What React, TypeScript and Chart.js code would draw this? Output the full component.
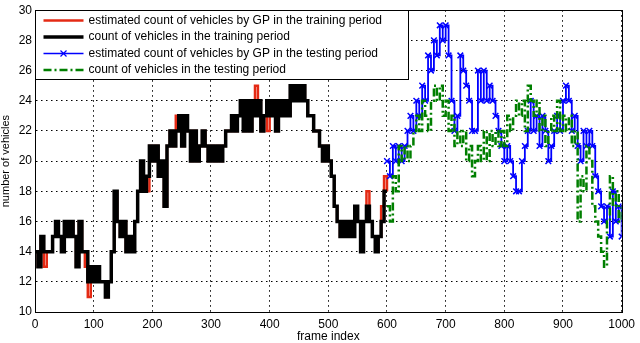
import React, { useEffect, useRef } from "react";
import { Chart, registerables } from "chart.js";

Chart.register(...registerables);

const FRAME_STEP = 5;
const TRAIN_START = 0;
const TEST_START = 600;

const xTicks = [0, 100, 200, 300, 400, 500, 600, 700, 800, 900, 1000];
const yTicks = [10, 12, 14, 16, 18, 20, 22, 24, 26, 28, 30];

const legendLabels = [
  "estimated count of vehicles by GP in the training period",
  "count of vehicles in the training period",
  "estimated count of vehicles by GP in the testing period",
  "count of vehicles in the testing period",
];

// frames 0..600, every 5 frames
const trainEstimated = [
  14, 13, 15, 13, 14, 14, 15, 16, 15, 14, 16, 15, 16, 15, 13, 16, 14, 13, 11, 13,
  12, 13, 12, 12, 11, 12, 14, 18, 16, 15, 16, 14, 15, 14, 16, 18, 19, 18, 18, 21,
  20, 21, 19, 19, 17, 21, 22, 21, 23, 23, 21, 23, 22, 20, 22, 20, 21, 22, 21, 20,
  21, 20, 21, 20, 21, 22, 22, 23, 22, 23, 24, 22, 24, 22, 24, 25, 24, 22, 23, 22,
  23, 24, 22, 24, 23, 24, 23, 25, 24, 25, 24, 25, 24, 23, 23, 22, 22, 21, 20, 21,
  20, 19, 17, 16, 15, 16, 15, 16, 15, 17, 16, 14, 16, 18, 16, 15, 14, 15, 17, 19,
  18,
];
const trainActual = [
  14, 13, 15, 14, 14, 14, 15, 16, 15, 14, 16, 15, 16, 15, 13, 16, 14, 14, 12, 13,
  12, 13, 12, 12, 11, 12, 14, 18, 16, 15, 16, 14, 15, 14, 16, 18, 20, 18, 19, 21,
  20, 21, 19, 20, 17, 21, 22, 21, 22, 23, 21, 23, 22, 20, 22, 20, 21, 22, 21, 20,
  21, 20, 21, 20, 21, 22, 22, 23, 22, 23, 24, 22, 24, 22, 24, 23, 24, 22, 23, 24,
  23, 24, 22, 24, 23, 24, 23, 25, 24, 25, 24, 25, 24, 23, 23, 22, 22, 21, 20, 21,
  20, 19, 17, 16, 15, 16, 15, 16, 15, 17, 16, 14, 16, 17, 16, 15, 14, 15, 16, 18,
  18,
];
// frames 600..1000, every 5 frames
const testEstimated = [
  20, 19, 21, 20, 21, 20, 21, 22, 23, 22, 24, 23, 25, 24, 27, 26, 28, 27, 29, 28,
  29, 27, 24, 22, 23, 27, 26, 25, 24, 22, 22, 26, 24, 26, 24, 25, 24, 23, 22, 21,
  20, 21, 20, 19, 18, 18, 20, 21, 22, 24, 22, 23, 21, 23, 22, 20, 21, 22, 23, 22,
  24, 25, 24, 22, 23, 21, 20, 22, 21, 22, 21, 19, 18, 17, 16, 17, 15, 18, 16, 17,
  15,
];
const testActual = [
  17, 16, 19, 18, 21, 20, 21, 20, 21, 22, 23, 22, 24, 23, 22, 24, 25, 24, 25, 23,
  24, 22, 23, 21, 22, 21, 22, 20, 21, 19, 20, 21, 20, 22, 20, 22, 21, 22, 21, 22,
  21, 23, 22, 23, 24, 23, 24, 22, 25, 24, 23, 24, 22, 23, 21, 22, 23, 22, 24, 22,
  23, 22, 23, 21, 22, 16, 19, 18, 21, 20, 17, 16, 15, 14, 13, 16, 19, 17, 18, 16,
  17,
];

const RED = "rgb(228,42,20)";
const BLACK = "#000000";
const BLUE = "#0000ff";
const GREEN = "#007f00";
const FONT = "'Liberation Sans', Arial, Helvetica, sans-serif";

const toPoints = (vals: number[], start: number) =>
  vals.map((v, i) => ({ x: start + i * FRAME_STEP, y: v }));

const framePlugin = {
  id: "matlabFrame",
  afterDraw(chart: any) {
    const { ctx, chartArea: a } = chart;
    ctx.save();
    const L = Math.round(a.left) + 0.5;
    const T = Math.round(a.top) + 0.5;
    const R = Math.round(a.right) + 0.5;
    const B = Math.round(a.bottom) + 0.5;
    ctx.strokeStyle = "#000";
    ctx.lineWidth = 1;
    ctx.setLineDash([]);
    ctx.strokeRect(L, T, R - L, B - T);

    // legend box
    const lw = 373;
    const lh = 69;
    ctx.fillStyle = "#fff";
    ctx.fillRect(L, T, lw, lh);
    ctx.strokeRect(L, T, lw, lh);

    const rows = [T + 10, T + 26.5, T + 43, T + 59.5];
    const sx0 = L + 8;
    const sx1 = L + 48;
    const drawSample = (y: number, color: string, width: number, dash: number[]) => {
      ctx.beginPath();
      ctx.strokeStyle = color;
      ctx.lineWidth = width;
      ctx.setLineDash(dash);
      ctx.moveTo(sx0, y);
      ctx.lineTo(sx1, y);
      ctx.stroke();
      ctx.setLineDash([]);
    };
    drawSample(rows[0], RED, 2.5, []);
    drawSample(rows[1], BLACK, 3.5, []);
    drawSample(rows[2], BLUE, 1.5, []);
    // x marker
    const mx = (sx0 + sx1) / 2;
    ctx.beginPath();
    ctx.strokeStyle = BLUE;
    ctx.lineWidth = 1.2;
    ctx.moveTo(mx - 3, rows[2] - 3);
    ctx.lineTo(mx + 3, rows[2] + 3);
    ctx.moveTo(mx + 3, rows[2] - 3);
    ctx.lineTo(mx - 3, rows[2] + 3);
    ctx.stroke();
    drawSample(rows[3], GREEN, 2.5, [8, 3, 2, 3]);

    ctx.fillStyle = "#000";
    ctx.font = `12px ${FONT}`;
    ctx.textBaseline = "middle";
    ctx.textAlign = "left";
    legendLabels.forEach((t, i) => ctx.fillText(t, L + 53, rows[i]));
    ctx.restore();
  },
};

export default function App() {
  const ref = useRef<HTMLCanvasElement | null>(null);

  useEffect(() => {
    document.body.style.margin = "0";
    const canvas = ref.current;
    if (!canvas) return;
    const chart = new Chart(canvas, {
      type: "line",
      data: {
        datasets: [
          {
            label: legendLabels[3],
            data: toPoints(testActual, TEST_START),
            borderColor: GREEN,
            borderWidth: 2.5,
            borderDash: [8, 3, 2, 3],
            pointRadius: 0,
            stepped: true,
            order: 0,
          },
          {
            label: legendLabels[2],
            data: toPoints(testEstimated, TEST_START),
            borderColor: BLUE,
            borderWidth: 1.8,
            pointStyle: "crossRot",
            pointRadius: 4,
            pointBorderWidth: 1.5,
            pointBorderColor: BLUE,
            pointBackgroundColor: BLUE,
            stepped: true,
            order: 1,
          },
          {
            label: legendLabels[1],
            data: toPoints(trainActual, TRAIN_START),
            borderColor: BLACK,
            borderWidth: 3.5,
            pointRadius: 0,
            stepped: true,
            order: 2,
          },
          {
            label: legendLabels[0],
            data: toPoints(trainEstimated, TRAIN_START),
            borderColor: RED,
            borderWidth: 2.5,
            pointRadius: 0,
            stepped: true,
            order: 3,
          },
        ],
      },
      options: {
        animation: false,
        responsive: true,
        maintainAspectRatio: false,
        layout: { padding: { top: 4, right: 14, left: 0, bottom: 0 } },
        plugins: {
          legend: { display: false },
          tooltip: { enabled: false },
        },
        scales: {
          x: {
            type: "linear",
            min: xTicks[0],
            max: xTicks[xTicks.length - 1],
            afterBuildTicks: (s: any) => {
              s.ticks = xTicks.map((v) => ({ value: v }));
            },
            afterFit: (s: any) => {
              s.height = 31;
            },
            grid: { color: "#000", lineWidth: 1, drawTicks: false },
            border: { display: true, color: "#000", dash: [1.5, 3.5] },
            ticks: {
              color: "#000",
              padding: 5,
              maxRotation: 0,
              autoSkip: false,
              font: { family: FONT, size: 12 },
              callback: (v: any) => String(v),
            },
            title: {
              display: true,
              text: "frame index",
              color: "#000",
              padding: { top: 0, bottom: 0 },
              font: { family: FONT, size: 12, lineHeight: 1 },
            },
          },
          y: {
            type: "linear",
            min: yTicks[0],
            max: yTicks[yTicks.length - 1],
            afterBuildTicks: (s: any) => {
              s.ticks = yTicks.map((v) => ({ value: v }));
            },
            afterFit: (s: any) => {
              s.width = 35;
            },
            grid: { color: "#000", lineWidth: 1, drawTicks: false },
            border: { display: true, color: "#000", dash: [1.5, 3.5] },
            ticks: {
              color: "#000",
              padding: 3,
              autoSkip: false,
              font: { family: FONT, size: 12 },
              callback: (v: any) => String(v),
            },
            title: {
              display: true,
              text: "number of vehicles",
              color: "#000",
              padding: { top: 0, bottom: 0 },
              font: { family: FONT, size: 11, lineHeight: 1 },
            },
          },
        },
      },
      plugins: [framePlugin],
    });
    return () => chart.destroy();
  }, []);

  return (
    <div style={{ position: "absolute", left: 0, top: 0, width: 640, height: 343 }}>
      <canvas ref={ref} />
    </div>
  );
}
